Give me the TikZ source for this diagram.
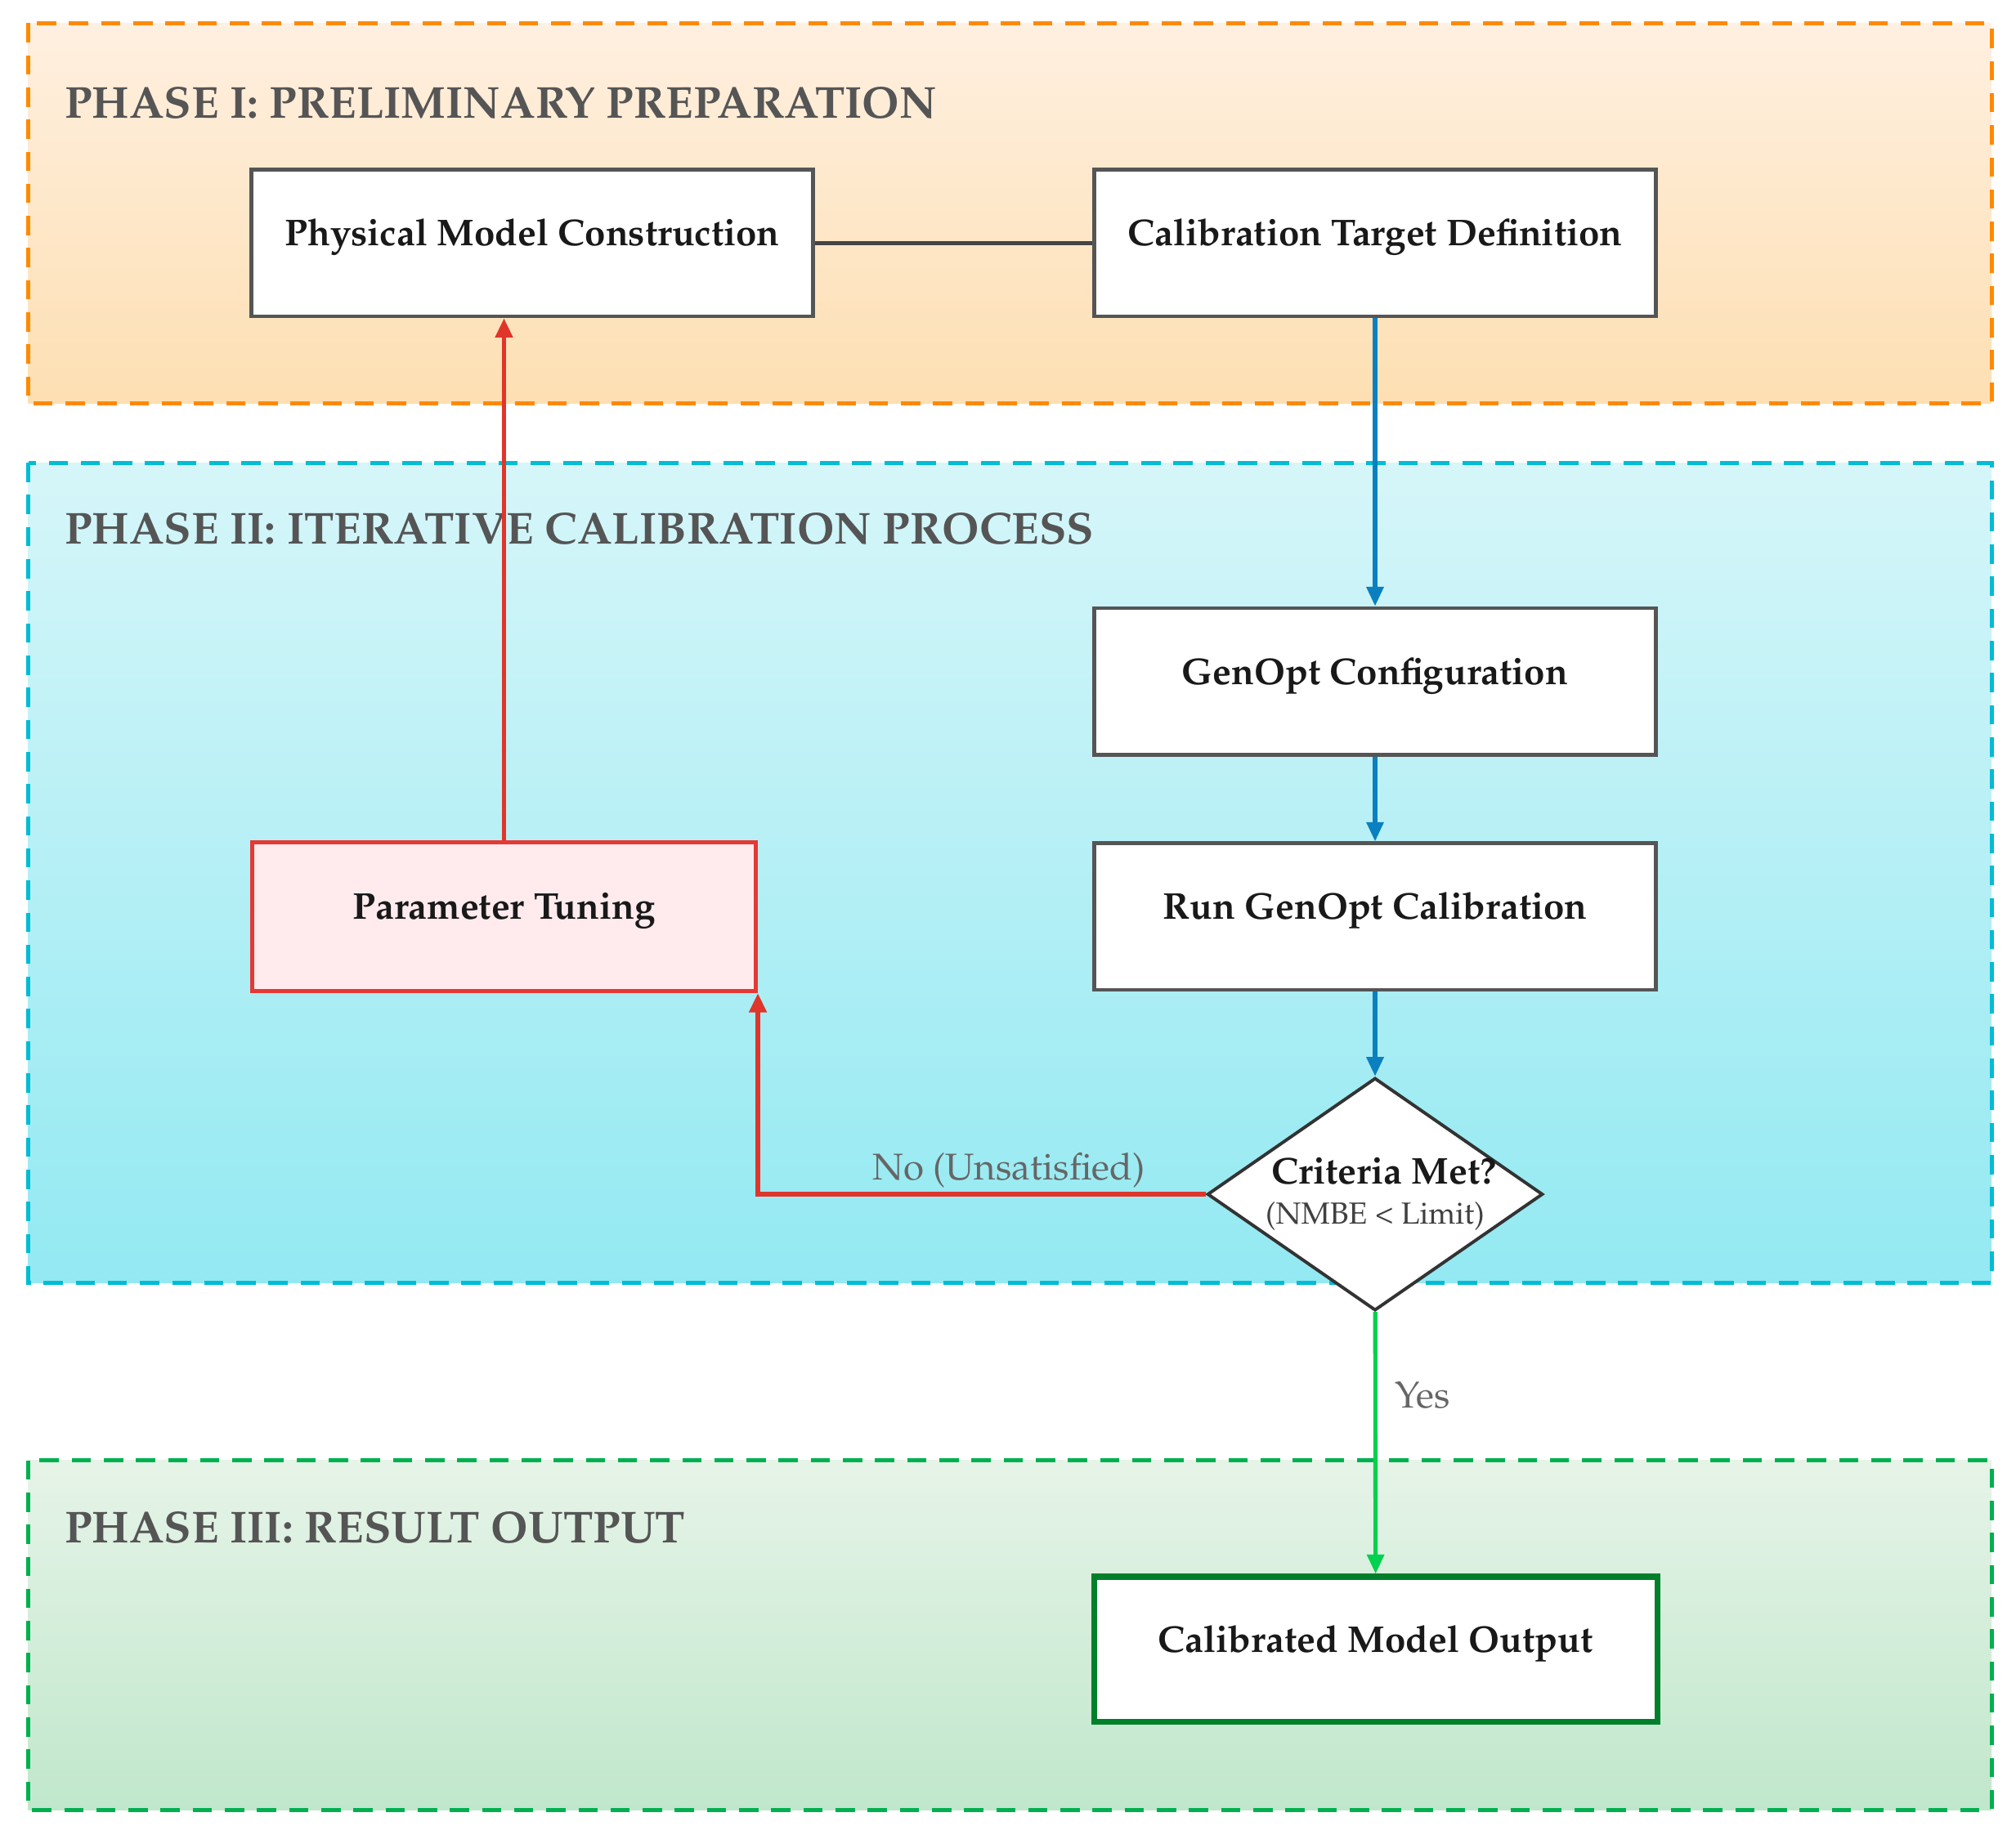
\documentclass[tikz,border=0pt]{standalone}
\usepackage[T1]{fontenc}
\usepackage{mathpazo}
\usepackage{xcolor}
\usepackage{tikz}
\usetikzlibrary{
  arrows.meta,
  positioning,
  calc,
  shapes.geometric
}
\definecolor{phaseorange}{HTML}{FF8A00}
\definecolor{phasecyan}{HTML}{00BCD4}
\definecolor{phasegreen}{HTML}{00B04F}
\definecolor{titlegray}{HTML}{555555}
\definecolor{boxgray}{HTML}{555555}
\definecolor{labelgray}{HTML}{666666}
\definecolor{flowblue}{HTML}{0A80C0}
\definecolor{flowred}{HTML}{E0352B}
\definecolor{flowgreen}{HTML}{00D14E}
\definecolor{outgreen}{HTML}{00802A}
\definecolor{tunefill}{HTML}{FFEBEE}
\definecolor{tuneborder}{HTML}{E53935}

\begin{document}
\begin{tikzpicture}[x=0.02cm, y=-0.02cm,
  phase/.style={dash pattern=on 0.3cm off 0.2cm, line width=0.06cm},
  phasetitle/.style={anchor=west, inner sep=0pt, text=titlegray,
    font=\fontsize{19.8}{24}\selectfont\bfseries},
  procbox/.style={draw=boxgray, fill=white, line width=0.06cm,
    minimum width=8.74cm, minimum height=2.28cm, inner sep=0pt,
    text height=11.5pt, text depth=9pt, text=black!90,
    font=\fontsize{16.5}{20}\selectfont\bfseries},
  flow/.style={line width=0.065cm, -{Triangle[length=0.3cm, width=0.26cm]}},
  flowlabel/.style={text=labelgray, inner sep=2pt,
    font=\fontsize{16.5}{20}\selectfont}
]
\fill[white] (0,0) rectangle (1568,1427);
\useasboundingbox (0,0) rectangle (1568,1427);

% phase frames
\shade[top color=orange!12!white, bottom color={rgb,255:red,253;green,223;blue,178}]
  (22,18) rectangle (1549,314);
\draw[phase, phaseorange] (22,18) rectangle (1549,314);
\shade[top color={rgb,255:red,214;green,246;blue,249}, bottom color={rgb,255:red,147;green,233;blue,242}]
  (22,360) rectangle (1549,998);
\draw[phase, phasecyan] (22,360) rectangle (1549,998);
\shade[top color={rgb,255:red,230;green,244;blue,232}, bottom color={rgb,255:red,192;green,231;blue,203}]
  (22,1136) rectangle (1549,1408);
\draw[phase, phasegreen] (22,1136) rectangle (1549,1408);

\node[phasetitle] (t1) at (50,80) {PHASE I: PRELIMINARY PREPARATION};
\node[phasetitle] (t2) at (50,411) {PHASE II: ITERATIVE CALIBRATION PROCESS};
\node[phasetitle] (t3) at (50,1188) {PHASE III: RESULT OUTPUT};

% process steps
\node[procbox] (phys) at (414,189) {Physical Model Construction};
\node[procbox] (calib) at (1069.5,189) {Calibration Target Definition};
\node[procbox] (genopt) at (1069.5,530) {GenOpt Configuration};
\node[procbox] (run) at (1069.5,713) {Run GenOpt Calibration};
\node[procbox, minimum width=7.84cm, minimum height=2.32cm,
  draw=tuneborder, fill=tunefill] (tune) at (392,713) {Parameter Tuning};
\node[diamond, draw={rgb,255:red,51;green,51;blue,51}, fill=white,
  line width=0.05cm, aspect=1.44, inner sep=-3pt,
  minimum width=5.22cm, minimum height=3.62cm, align=center,
  text=black!90] (crit) at (1069.5,929)
  {{\fontsize{16.5}{20}\selectfont\bfseries\hspace*{8pt}Criteria Met?}\\[6pt]
   {\fontsize{13.5}{15}\selectfont\color{black!75}(NMBE \textless{} Limit)}};
\node[procbox, draw=outgreen, line width=0.09cm, minimum width=8.76cm,
  minimum height=2.26cm] (out) at (1070,1283) {Calibrated Model Output};

% connectors
\draw[boxgray!80!black, line width=0.06cm] (phys) -- (calib);
\draw[flow, flowblue] (calib) -- (genopt);
\draw[flow, flowblue] (genopt) -- (run);
\draw[flow, flowblue] (run) -- (crit);
\draw[flow, flowgreen] (crit) -- node[flowlabel, right, xshift=0.2cm, pos=0.32] {Yes} (out);
\draw[flow, flowred, line width=0.075cm] (crit.west) -| node[flowlabel, above, pos=0.22] {No (Unsatisfied)}
  (tune.south east);
\draw[flow, flowred, line width=0.075cm] (tune.north) -- (tune.north |- phys.south);
\end{tikzpicture}
\end{document}
